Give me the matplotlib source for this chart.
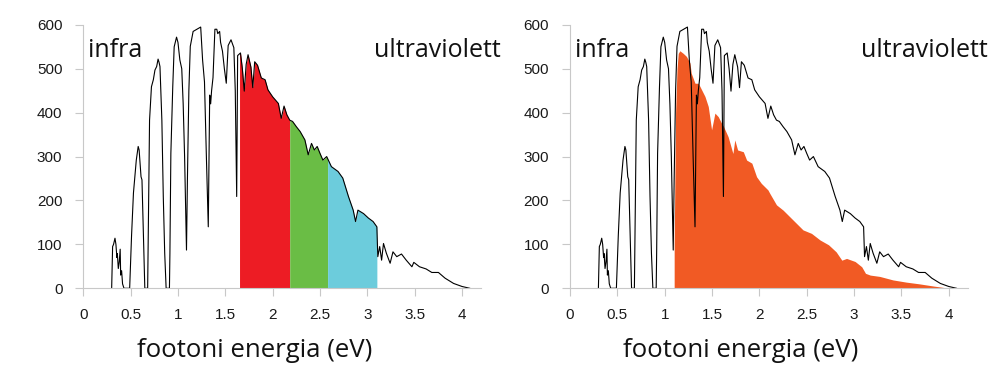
import matplotlib
matplotlib.use("Agg")
import matplotlib.pyplot as plt
import numpy as np

# solar photon spectrum (eV, arbitrary units)
energy = [0.30, 0.31, 0.32, 0.335, 0.345, 0.355, 0.36, 0.37, 0.38, 0.39, 0.395, 0.405, 0.415, 0.43,
          0.49, 0.51, 0.53, 0.56, 0.58, 0.59, 0.61, 0.62, 0.633, 0.65,
          0.68, 0.70, 0.72, 0.74, 0.757, 0.775, 0.79, 0.80, 0.81, 0.83, 0.845, 0.86, 0.875,
          0.91, 0.915, 0.925, 0.945, 0.96, 0.985, 1.0, 1.02, 1.04, 1.055, 1.07, 1.09,
          1.10, 1.115, 1.13, 1.16, 1.20, 1.24, 1.26, 1.28, 1.30, 1.32, 1.335, 1.345, 1.355, 1.37,
          1.39, 1.41, 1.42, 1.44, 1.45, 1.47, 1.49, 1.51, 1.53, 1.56, 1.59, 1.605, 1.62, 1.63,
          1.66, 1.68, 1.70, 1.72, 1.74, 1.77, 1.79, 1.81, 1.84, 1.88, 1.92, 1.95, 2.0, 2.06,
          2.09, 2.12, 2.15, 2.18, 2.21, 2.25, 2.29, 2.34, 2.375, 2.41, 2.44, 2.47, 2.50, 2.53,
          2.57, 2.62, 2.69, 2.74, 2.80, 2.85, 2.875, 2.90, 2.96, 3.01, 3.06, 3.10, 3.11, 3.13,
          3.15, 3.17, 3.20, 3.24, 3.27, 3.31, 3.36, 3.41, 3.47, 3.49, 3.55, 3.62, 3.68, 3.75,
          3.82, 3.91, 4.0, 4.08]
flux = [0, 95, 100, 114, 100, 70, 79, 45, 60, 89, 30, 40, 10, 0,
        0, 120, 217, 292, 323, 315, 254, 247, 140, 0,
        0, 383, 459, 475, 497, 505, 522, 515, 505, 383, 209, 80, 0,
        0, 80, 307, 459, 550, 572, 560, 520, 500, 420, 300, 87,
        250, 450, 551, 585, 590, 595, 520, 470, 300, 140, 440, 420, 450, 480,
        590, 590, 580, 585, 560, 540, 500, 467, 553, 566, 548, 450, 209, 530,
        536, 500, 449, 510, 532, 504, 457, 516, 508, 479, 475, 452, 436, 421,
        387, 415, 395, 383, 380, 368, 357, 338, 304, 330, 315, 323, 307, 292,
        300, 277, 266, 251, 209, 178, 152, 178, 170, 160, 152, 140, 72, 95,
        64, 102, 80, 57, 83, 72, 78, 64, 49, 59, 49, 44, 36, 36,
        23, 11, 4, 0]

# colour bands of the left panel (eV)
bands = [(1.65, 2.18), (2.18, 2.58), (2.58, 3.10)]
band_colors = ["#ED1C24", "#6ABD45", "#6CCCDC"]

# upper edge of the orange area in the right panel
used_e = [1.10, 1.115, 1.13, 1.143, 1.16, 1.196, 1.23, 1.267, 1.28, 1.32, 1.355, 1.39, 1.425,
          1.46, 1.495, 1.53, 1.565, 1.60, 1.62, 1.67, 1.72, 1.74, 1.77, 1.83, 1.865, 1.92,
          1.97, 2.02, 2.09, 2.11, 2.18, 2.25, 2.32, 2.39, 2.46, 2.55, 2.64, 2.73, 2.81, 2.87,
          2.92, 3.01, 3.08, 3.12, 3.17, 3.27, 3.41, 3.55, 3.69, 3.84, 3.94, 4.0]
used_flux = [100, 400, 500, 535, 541, 535, 528, 513, 490, 467, 467, 452, 437,
             414, 361, 399, 391, 376, 369, 345, 307, 338, 315, 311, 292, 285,
             254, 239, 224, 216, 190, 178, 163, 148, 133, 125, 110, 99, 83, 64,
             68, 61, 49, 34, 30, 27, 19, 14, 10, 5, 2, 0]

energy = np.array(energy)
flux = np.array(flux)

fig = plt.figure(figsize=(9.97, 3.71), dpi=100)
ax1 = fig.add_axes([0.0835, 0.223, 0.399, 0.710])
ax2 = fig.add_axes([0.5717, 0.223, 0.399, 0.710])

tick_font = "Liberation Sans"
text_font = "Open Sans"

for ax in (ax1, ax2):
    ax.set_xlim(0, 4.2)
    ax.set_ylim(0, 600)
    ax.set_xticks([0, 0.5, 1, 1.5, 2, 2.5, 3, 3.5, 4])
    ax.set_xticklabels(["0", "0.5", "1", "1.5", "2", "2.5", "3", "3.5", "4"])
    ax.set_yticks([0, 100, 200, 300, 400, 500, 600])
    for s in ("top", "right"):
        ax.spines[s].set_visible(False)
    for s in ("left", "bottom"):
        ax.spines[s].set_color("#c8c8c8")
        ax.spines[s].set_linewidth(0.8)
    ax.tick_params(axis="both", colors="#c8c8c8", labelcolor="#1a1a1a",
                   length=6, width=0.8, labelsize=11, pad=8)
    ax.tick_params(axis="y", pad=9)
    for lab in ax.get_xticklabels() + ax.get_yticklabels():
        lab.set_family(tick_font)
    ax.set_xlabel("footoni energia (eV)", family=text_font, fontsize=18.5, color="#111111")
    ax.xaxis.set_label_coords(0.43, -0.19)
    ax.text(0.05, 527, "infra", family=text_font, fontsize=18, va="baseline", color="#111111")
    ax.text(3.07, 527, "ultraviolett", family=text_font, fontsize=18, va="baseline",
            color="#111111", clip_on=False)

# left panel: coloured bands under the spectrum
for (lo, hi), c in zip(bands, band_colors):
    m = (energy > lo) & (energy < hi)
    xs = np.concatenate([[lo], energy[m], [hi]])
    ys = np.concatenate([[np.interp(lo, energy, flux)], flux[m], [np.interp(hi, energy, flux)]])
    ax1.fill_between(xs, 0, ys, color=c, linewidth=0)
ax1.plot(energy, flux, color="black", lw=0.8)

# right panel: part usable by the cell
ax2.fill_between(used_e, 0, used_flux, color="#F15A24", linewidth=0)
ax2.plot(energy, flux, color="black", lw=0.8)

fig.savefig("out.png", dpi=100)
